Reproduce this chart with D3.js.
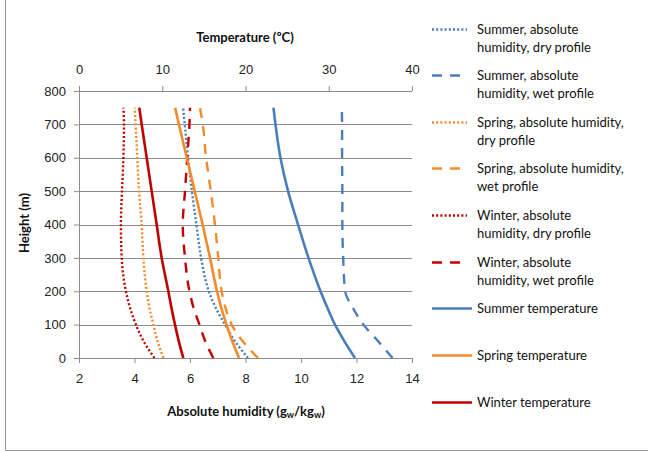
<!DOCTYPE html>
<html>
<head>
<meta charset="utf-8">
<script src="https://cdn.jsdelivr.net/npm/d3@7"></script>
<style>
  body { margin: 0; background: #fff; }
  svg { font-family: Lato, "Open Sans", sans-serif; }
  .tick text { font-size: 13px; fill: #222; }
  .axisTitle { font-size: 13px; font-weight: bold; fill: #111; }
  .legendText { font-size: 13px; fill: #111; }
</style>
</head>
<body>
<div class="chart"></div>
<script>
// Heights (m) shared by all profiles
var heights = [0, 50, 100, 150, 200, 300, 400, 500, 600, 700, 750];

// Absolute humidity profiles (gw/kgw)
var summerDry = [8.09, 7.62, 7.26, 6.93, 6.68, 6.40, 6.23, 6.07, 5.93, 5.81, 5.75];
var summerWet = [13.3, 12.78, 12.25, 11.87, 11.59, 11.52, 11.49, 11.49, 11.48, 11.48, 11.47];
var springDry = [5.04, 4.83, 4.68, 4.54, 4.44, 4.32, 4.26, 4.16, 4.10, 4.04, 4.01];
var springWet = [8.45, 7.90, 7.50, 7.28, 7.14, 7.02, 6.90, 6.75, 6.58, 6.46, 6.36];
var winterDry = [4.72, 4.33, 4.05, 3.84, 3.69, 3.54, 3.51, 3.55, 3.60, 3.62, 3.60];
var winterWet = [6.84, 6.55, 6.34, 6.13, 5.98, 5.82, 5.74, 5.82, 5.90, 5.98, 6.00];

// Temperature profiles (ºC)
var summerTemp = [33.15, 31.89, 30.75, 29.85, 29.01, 27.57, 26.31, 25.11, 24.20, 23.60, 23.36];
var springTemp = [19.22, 18.41, 17.72, 17.09, 16.58, 15.74, 14.85, 13.90, 12.95, 12.00, 11.55];
var winterTemp = [12.53, 11.99, 11.53, 11.11, 10.73, 9.93, 9.33, 8.73, 8.13, 7.53, 7.24];

var humTicks = [2, 4, 6, 8, 10, 12, 14];
var tempTicks = [0, 10, 20, 30, 40];
var heightTicks = [0, 100, 200, 300, 400, 500, 600, 700, 800];

var blue = "#4A7EBB", orange = "#F38A2C", red = "#C00000";

var series = [
  { name: ["Summer, absolute", "humidity, dry profile"], values: summerDry, axis: "hum", color: blue, dash: "2,2.2" },
  { name: ["Summer, absolute", "humidity, wet profile"], values: summerWet, axis: "hum", color: blue, dash: "10,8" },
  { name: ["Spring, absolute humidity,", "dry profile"], values: springDry, axis: "hum", color: orange, dash: "2,2.2" },
  { name: ["Spring, absolute humidity,", "wet profile"], values: springWet, axis: "hum", color: orange, dash: "10,8" },
  { name: ["Winter, absolute", "humidity, dry profile"], values: winterDry, axis: "hum", color: red, dash: "2,2.2" },
  { name: ["Winter, absolute", "humidity, wet profile"], values: winterWet, axis: "hum", color: red, dash: "10,8" },
  { name: ["Summer temperature"], values: summerTemp, axis: "temp", color: blue, dash: null },
  { name: ["Spring temperature"], values: springTemp, axis: "temp", color: orange, dash: null },
  { name: ["Winter temperature"], values: winterTemp, axis: "temp", color: red, dash: null }
];

var svgWidth = 648;
var svgHeight = 452;
var margin = { top: 91, right: 236, bottom: 94, left: 79 };
var width = svgWidth - margin.left - margin.right;
var height = svgHeight - margin.top - margin.bottom;

var svg = d3.select(".chart")
  .append("svg")
  .attr("width", svgWidth)
  .attr("height", svgHeight);

// outer chart border (only left and bottom visible)
svg.append("path")
  .attr("d", "M5.5,-2V450.5H652")
  .attr("fill", "none")
  .attr("stroke", "#9a9a9a")
  .attr("stroke-width", 1);

var chartGroup = svg.append("g")
  .attr("transform", `translate(${margin.left}, ${margin.top})`);

var xHum = d3.scaleLinear().domain([2, 14]).range([0, width]);
var xTemp = d3.scaleLinear().domain([0, 40]).range([0, width]);
var yScale = d3.scaleLinear().domain([0, 800]).range([height, 0]);

// gridlines
chartGroup.selectAll(".grid")
  .data(heightTicks.slice(1, -1))
  .enter()
  .append("line")
  .attr("x1", 0)
  .attr("x2", width)
  .attr("y1", d => Math.round(yScale(d)) + 0.5)
  .attr("y2", d => Math.round(yScale(d)) + 0.5)
  .attr("stroke", "#8c8c8c")
  .attr("stroke-width", 1);

function styleAxis(g) {
  g.selectAll("path").attr("stroke", "#8c8c8c");
  g.selectAll("line").attr("stroke", "#8c8c8c");
}

var bottomAxis = chartGroup.append("g")
  .attr("transform", `translate(0, ${height})`)
  .call(d3.axisBottom(xHum).tickValues(humTicks).tickSize(5).tickSizeOuter(5).tickPadding(11))
  .call(styleAxis);
bottomAxis.select(".domain").remove();
bottomAxis.append("line").attr("x1", 0).attr("x2", width).attr("y1", 0.5).attr("y2", 0.5).attr("stroke", "#8c8c8c");

var topAxis = chartGroup.append("g")
  .call(d3.axisTop(xTemp).tickValues(tempTicks).tickSize(5).tickPadding(12))
  .call(styleAxis);
topAxis.select(".domain").remove();
topAxis.append("line").attr("x1", 0).attr("x2", width).attr("y1", 0.5).attr("y2", 0.5).attr("stroke", "#8c8c8c");

var leftAxis = chartGroup.append("g")
  .call(d3.axisLeft(yScale).tickValues(heightTicks).tickSize(5).tickPadding(8))
  .call(styleAxis);
leftAxis.select(".domain").remove();
leftAxis.append("line").attr("x1", 0.5).attr("x2", 0.5).attr("y1", 0).attr("y2", height).attr("stroke", "#8c8c8c");

// lines
series.forEach(function(s) {
  var xs = s.axis === "hum" ? xHum : xTemp;
  var line = d3.line()
    .x((d, i) => xs(s.values[i]))
    .y(d => yScale(d))
    .curve(d3.curveMonotoneY);
  chartGroup.append("path")
    .datum(heights)
    .attr("d", line)
    .attr("fill", "none")
    .attr("stroke", s.color)
    .attr("stroke-width", s.dash ? 2.4 : 2.6)
    .attr("stroke-dasharray", s.dash);
});

// axis titles
svg.append("text")
  .attr("class", "axisTitle")
  .attr("x", 245)
  .attr("y", 42)
  .attr("text-anchor", "middle")
  .text("Temperature (ºC)");

var xTitle = svg.append("text")
  .attr("class", "axisTitle")
  .attr("x", 246)
  .attr("y", 416)
  .attr("text-anchor", "middle");
xTitle.append("tspan").text("Absolute humidity (g");
xTitle.append("tspan").attr("font-size", "9px").attr("dy", 2).text("w");
xTitle.append("tspan").attr("dy", -2).text("/kg");
xTitle.append("tspan").attr("font-size", "9px").attr("dy", 2).text("w");
xTitle.append("tspan").attr("dy", -2).text(")");

svg.append("text")
  .attr("class", "axisTitle")
  .attr("transform", "translate(29, 223) rotate(-90)")
  .attr("text-anchor", "middle")
  .text("Height (m)");

// legend
var legendY = [29, 75, 122, 168, 215, 262, 308, 355, 402];
var legend = svg.selectAll(".legendItem")
  .data(series)
  .enter()
  .append("g")
  .attr("transform", (d, i) => `translate(0, ${legendY[i]})`);

legend.append("line")
  .attr("x1", 432)
  .attr("x2", d => d.dash === null ? 472 : (d.dash === "10,8" ? 462 : 467))
  .attr("y1", 0.5)
  .attr("y2", 0.5)
  .attr("stroke", d => d.color)
  .attr("stroke-width", 2.6)
  .attr("stroke-dasharray", d => d.dash);

legend.each(function(d) {
  var t = d3.select(this).append("text")
    .attr("class", "legendText")
    .attr("x", 477)
    .attr("y", 4.5);
  d.name.forEach(function(n, j) {
    t.append("tspan").attr("x", 477).attr("dy", j === 0 ? 0 : 18.5).text(n);
  });
});
</script>
</body>
</html>
